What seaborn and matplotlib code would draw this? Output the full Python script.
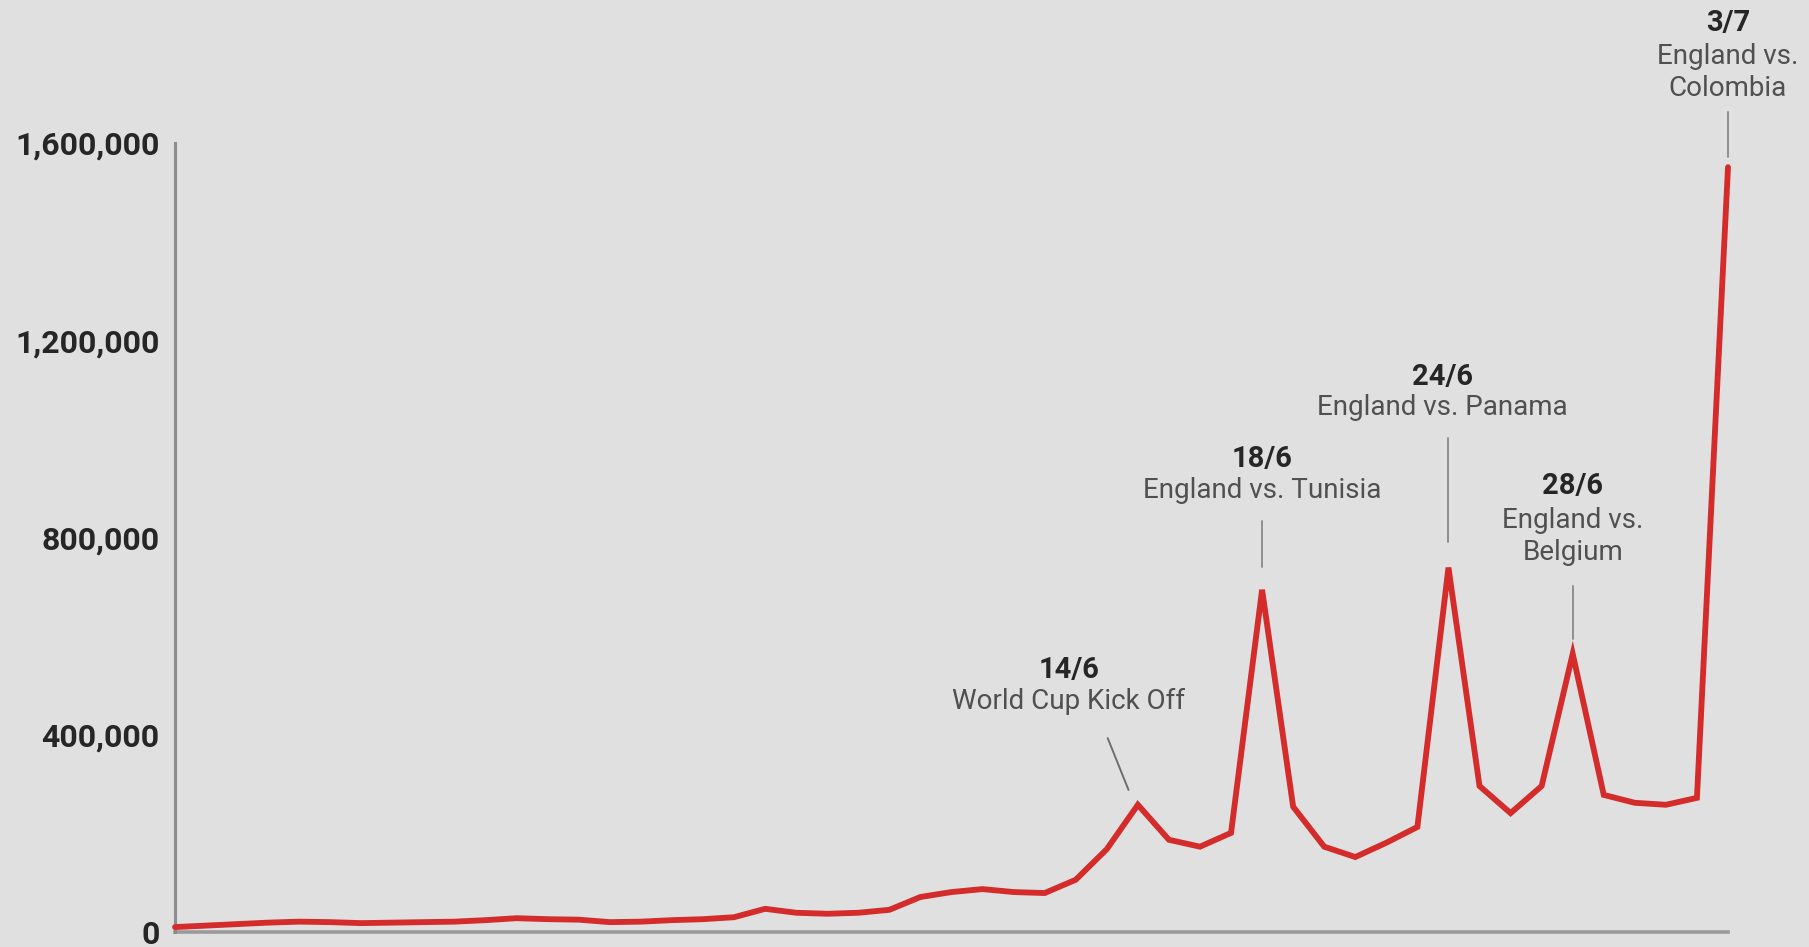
import numpy as np
import pandas as pd
import matplotlib
matplotlib.use("Agg")
import matplotlib.pyplot as plt
import matplotlib.ticker as mticker
import seaborn as sns

# ---------------- data ----------------
start_date = "2018-05-14"
end_date = "2018-07-03"
views = [10000, 13000, 16000, 19000, 21000, 20000, 18000, 19000, 20000, 21000,
         24000, 28000, 26000, 25000, 20000, 21000, 24000, 26000, 30000, 47000,
         39000, 37000, 39000, 45000, 71000, 81000, 87000, 81000, 79000, 106000,
         168000, 258000, 187000, 173000, 201000, 694000, 254000, 173000, 152000, 181000,
         213000, 739000, 296000, 241000, 296000, 564000, 278000, 262000, 258000, 272000,
         1551000]
y_ticks = [0, 400000, 800000, 1200000, 1600000]
event_dates = ["2018-06-14", "2018-06-18", "2018-06-24", "2018-06-28", "2018-07-03"]
event_titles = ["14/6", "18/6", "24/6", "28/6", "3/7"]
event_texts = ["World Cup Kick Off", "England vs. Tunisia", "England vs. Panama",
               "England vs.\nBelgium", "England vs.\nColombia"]

dates = pd.date_range(start_date, end_date, freq="D")
df = pd.DataFrame({"date": dates, "views": views})

# ---------------- style ----------------
BG = "#e0e0e0"
RED = "#d42b2b"
sns.set_theme(style="white", rc={"figure.facecolor": BG, "axes.facecolor": BG})
plt.rcParams["font.family"] = ["Roboto", "DejaVu Sans"]

fig = plt.figure(figsize=(18.09, 9.47), dpi=100)
ax = fig.add_axes([175 / 1809, 15 / 947, (1728 - 175) / 1809, (932 - 143) / 947])
ax.set_facecolor(BG)

sns.lineplot(data=df, x="date", y="views", color=RED, linewidth=4.2, ax=ax)
for ln in ax.lines:
    ln.set_clip_on(False)
    ln.set_solid_joinstyle("miter")
    ln.set_zorder(3)

ax.set_xlim(dates[0], dates[-1])
ax.set_ylim(y_ticks[0], y_ticks[-1])
ax.set_yticks(y_ticks)
ax.yaxis.set_major_formatter(mticker.StrMethodFormatter("{x:,.0f}"))
ax.set_xticks([])
ax.set_xlabel("")
ax.set_ylabel("")
ax.tick_params(axis="y", length=0, pad=11, labelsize=23, labelcolor="#262626")
for lab in ax.get_yticklabels():
    lab.set_fontweight("bold")

for s in ["top", "right"]:
    ax.spines[s].set_visible(False)
ax.spines["left"].set_color("#8c8c8c")
ax.spines["left"].set_linewidth(2.2)
ax.spines["bottom"].set_color("#9a9a9a")
ax.spines["bottom"].set_linewidth(2.6)
ax.spines["bottom"].set_zorder(2)

# ---------------- annotations ----------------
# (text x offset in days, title y, description centre y, leader start (dx, y), leader end (dx, y))
layout = [
    (-2.23, 531000, 468000, (-0.97, 393000), (-0.30, 288000)),
    (0.0, 959000, 896000, (0.0, 833000), (0.0, 740000)),
    (-0.2, 1125000, 1063000, (0.0, 1002000), (0.0, 791000)),
    (0.0, 904000, 802000, (0.0, 702000), (0.0, 594000)),
    (0.0, 1843000, 1743000, (0.0, 1663000), (0.0, 1572000)),
]
for d, title, text, (tdx, ty, dy, (sx, sy), (ex, ey)) in zip(
        event_dates, event_titles, event_texts, layout):
    base = pd.Timestamp(d)
    tx = base + pd.Timedelta(days=tdx)
    ax.text(tx, ty, title, ha="center", va="center", fontsize=21,
            fontweight="bold", color="#262626", clip_on=False)
    ax.text(tx, dy, text, ha="center", va="center", fontsize=20,
            color="#505050", linespacing=1.25, clip_on=False)
    ax.plot([base + pd.Timedelta(days=sx), base + pd.Timedelta(days=ex)], [sy, ey],
            color="#8f8f8f" if sx == 0 else "#6e6e6e",
            linewidth=1.4, clip_on=False, zorder=2)

fig.savefig("out.png", dpi=100, facecolor=BG)
